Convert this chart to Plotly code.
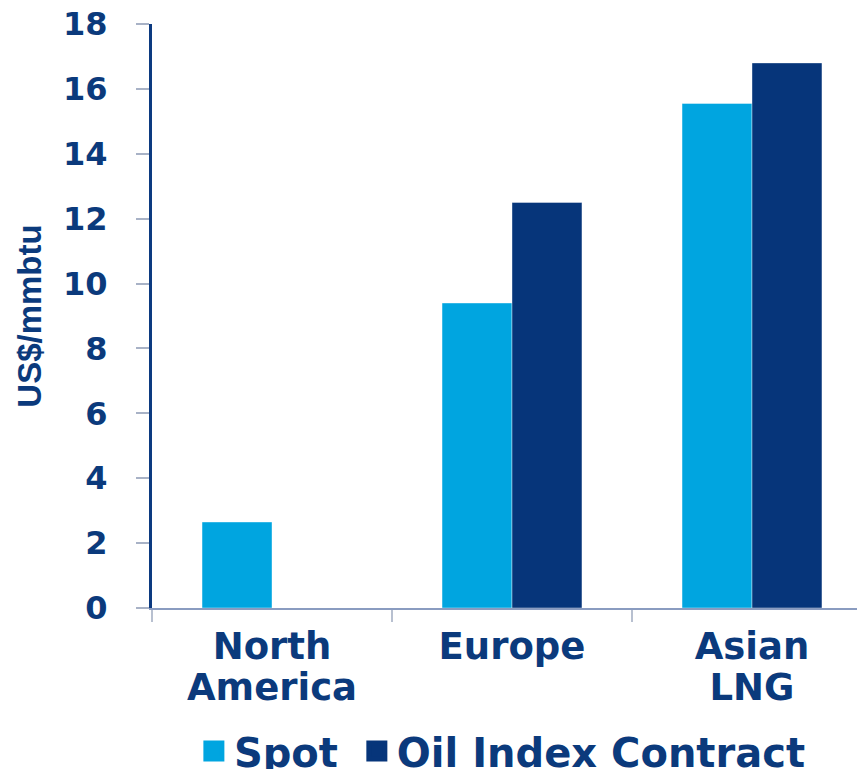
import plotly.graph_objects as go

categories = ["North America", "Europe", "Asian LNG"]
label_line1 = ["North", "Europe", "Asian"]
label_line2 = ["America", "", "LNG"]
spot = [2.65, 9.4, 15.55]
oil_index = [None, 12.5, 16.8]
y_ticks = [0, 2, 4, 6, 8, 10, 12, 14, 16, 18]

SPOT_C = "#00a5e0"
OIL_C = "#06357a"
TEXT_C = "#0b3a7c"
FONT = "DejaVu Sans"
X_RANGE = [-0.5, 2.4375]

fig = go.Figure()
fig.add_trace(go.Bar(x=categories, y=spot, name="Spot",
                     marker=dict(color=SPOT_C, line=dict(color="rgba(255,255,255,0.4)", width=1)), showlegend=False))
fig.add_trace(go.Bar(x=categories, y=oil_index, name="Oil Index Contract",
                     marker=dict(color=OIL_C, line=dict(color="rgba(255,255,255,0.4)", width=1)), showlegend=False))
# legend swatches
fig.add_trace(go.Scatter(x=[None], y=[None], mode="markers", name="Spot\u00a0",
                         marker=dict(symbol="square", size=16, color=SPOT_C, line=dict(color=SPOT_C, width=5))))
fig.add_trace(go.Scatter(x=[None], y=[None], mode="markers", name="Oil Index Contract",
                         marker=dict(symbol="square", size=16, color=OIL_C, line=dict(color=OIL_C, width=5))))
# carrier for the second label line axis
fig.add_trace(go.Scatter(x=[0], y=[None], xaxis="x2", yaxis="y", mode="markers",
                         showlegend=False, hoverinfo="skip"))

fig.update_layout(
    width=857, height=769,
    margin=dict(l=152, r=0, t=24, b=161, autoexpand=False),
    paper_bgcolor="white", plot_bgcolor="white",
    barmode="group", bargap=0.417, bargroupgap=0,
    font=dict(family=FONT, color=TEXT_C),
    showlegend=True,
    legend=dict(orientation="h", x=0.497, xanchor="center", y=-0.245, yanchor="middle",
                font=dict(family=FONT, size=40, color=TEXT_C, weight="bold"),
                itemwidth=30, traceorder="normal"),
    xaxis=dict(
        type="category", categoryorder="array", categoryarray=categories,
        tickmode="array", tickvals=categories, ticktext=label_line1,
        range=X_RANGE,
        showline=True, linecolor="#8a9cc0", linewidth=2,
        ticks="outside", tickson="boundaries", ticklen=12, tickwidth=2, tickcolor="#b8c0d0",
        tickfont=dict(family=FONT, size=37, color=TEXT_C, weight="bold"),
        ticklabelstandoff=5,
        showgrid=False, zeroline=False,
    ),
    xaxis2=dict(
        overlaying="x", anchor="y", side="bottom", type="linear",
        range=X_RANGE, tickmode="array", tickvals=[0, 1, 2], ticktext=label_line2,
        showline=False, ticks="", showgrid=False, zeroline=False,
        tickfont=dict(family=FONT, size=37, color=TEXT_C, weight="bold"),
        ticklabelstandoff=54,
    ),
    yaxis=dict(
        range=[0, 18], tickvals=y_ticks,
        showline=True, linecolor="#0c3a80", linewidth=3,
        ticks="outside", ticklen=13, tickwidth=2, tickcolor="#a8b2c6",
        tickfont=dict(family=FONT, size=32, color=TEXT_C, weight="bold"),
        ticklabelstandoff=22,
        showgrid=False, zeroline=False,
        title=dict(text="US$/mmbtu", font=dict(family="Liberation Sans", size=33, color=TEXT_C, weight="bold"), standoff=12),
    ),
)
fig.write_html("out.html")
